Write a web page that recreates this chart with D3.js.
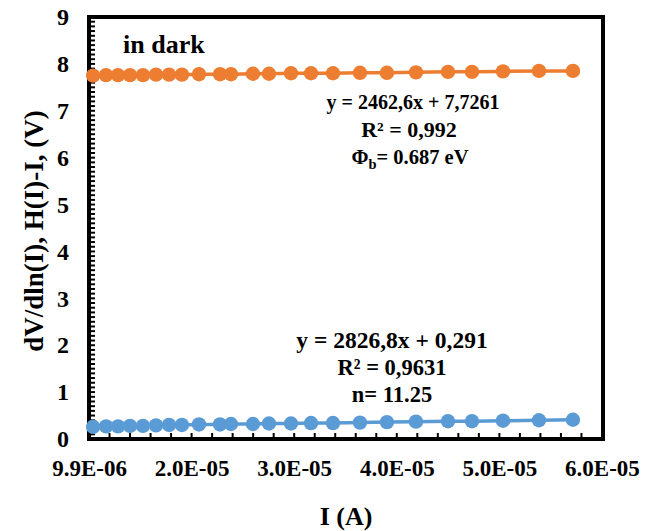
<!DOCTYPE html>
<html>
<head>
<meta charset="utf-8">
<script src="https://cdn.jsdelivr.net/npm/d3@7"></script>
<style>
  html, body { margin: 0; padding: 0; background: #fff; }
  svg text { font-family: "Liberation Serif", "Times New Roman", serif; font-weight: bold; fill: #000; }
</style>
</head>
<body>
<svg id="chart" width="662" height="531"></svg>
<script>
// Current (A) at each measurement point
const current = [
  1.03e-5, 1.156e-5, 1.273e-5, 1.39e-5, 1.516e-5, 1.643e-5, 1.77e-5, 1.896e-5,
  2.062e-5, 2.267e-5, 2.374e-5, 2.588e-5, 2.744e-5, 2.959e-5, 3.154e-5, 3.368e-5,
  3.631e-5, 3.894e-5, 4.177e-5, 4.489e-5, 4.723e-5, 5.025e-5, 5.376e-5, 5.707e-5
];
// H(I) - I (V)
const hFunc = [
  7.75, 7.76, 7.76, 7.76, 7.76, 7.77, 7.77, 7.77,
  7.78, 7.78, 7.78, 7.79, 7.79, 7.80, 7.80, 7.80,
  7.81, 7.81, 7.82, 7.83, 7.83, 7.84, 7.85, 7.85
];
// dV/dln(I) - I (V)
const dvdlnI = [
  0.26, 0.27, 0.27, 0.28, 0.28, 0.29, 0.30, 0.30,
  0.31, 0.31, 0.32, 0.32, 0.33, 0.33, 0.34, 0.34,
  0.35, 0.36, 0.37, 0.38, 0.38, 0.39, 0.40, 0.41
];
const yTicks = [0, 1, 2, 3, 4, 5, 6, 7, 8, 9];
const xTicks = [9.9e-6, 1.99e-5, 2.99e-5, 3.99e-5, 4.99e-5, 5.99e-5];
const hLabel = ["y = 2462,6x + 7,7261", "R² = 0,992"];
const dvLabel = ["y = 2826,8x + 0,291", "R² = 0,9631", "n= 11.25"];

const svg = d3.select("#chart");
const L = 89, R = 603, T = 17, B = 439;

const x = d3.scaleLinear().domain([9.9e-6, 6.0e-5]).range([L, R]);
const y = d3.scaleLinear().domain([0, 9]).range([B, T]);

const fmtE = v => {
  const [m, e] = v.toExponential(1).split("e");
  const sign = e[0] === "-" ? "-" : "+";
  const digits = e.replace(/[+-]/, "").padStart(2, "0");
  return m + "E" + sign + digits;
};

// minor tick positions
const yMinor = d3.range(0, 9.0001, 0.1);
const xMinor = d3.range(0, 26).map(i => 9.9e-6 + i * 2e-6).filter(v => v <= 6.0e-5);

const ticks = svg.append("g");
ticks.selectAll(".ym").data(yMinor).join("line")
  .attr("x1", L).attr("x2", L + 6)
  .attr("y1", d => y(d)).attr("y2", d => y(d))
  .attr("stroke", "#000").attr("stroke-width", 2);
ticks.selectAll(".xm").data(xMinor).join("line")
  .attr("x1", d => x(d)).attr("x2", d => x(d))
  .attr("y1", B).attr("y2", B - 6)
  .attr("stroke", "#000").attr("stroke-width", 2);

// axis labels through d3 axes (lines hidden, frame drawn separately)
const yAxis = svg.append("g").attr("transform", `translate(${L},0)`)
  .call(d3.axisLeft(y).tickValues(yTicks).tickSize(0).tickPadding(20).tickFormat(d3.format("d")));
const xAxis = svg.append("g").attr("transform", `translate(0,${B})`)
  .call(d3.axisBottom(x).tickValues(xTicks).tickSize(0).tickPadding(21).tickFormat(fmtE));
[yAxis, xAxis].forEach(a => {
  a.select(".domain").remove();
  a.selectAll("text").attr("font-family", "Liberation Serif, serif").attr("font-weight", "bold");
});
yAxis.selectAll("text").attr("font-size", 24);
xAxis.selectAll("text").attr("font-size", 23);

// frame
svg.append("rect").attr("x", L).attr("y", T).attr("width", R - L).attr("height", B - T)
  .attr("fill", "none").attr("stroke", "#000").attr("stroke-width", 4);

// series
const series = [
  { vals: hFunc, color: "#ED7D31" },
  { vals: dvdlnI, color: "#5B9BD5" }
];
const line = d3.line().x(d => x(d[0])).y(d => y(d[1]));
series.forEach(s => {
  const pts = current.map((c, i) => [c, s.vals[i]]);
  const g = svg.append("g");
  g.append("path").datum(pts).attr("d", line)
    .attr("fill", "none").attr("stroke", s.color).attr("stroke-width", 3.5);
  g.selectAll("circle").data(pts).join("circle")
    .attr("cx", d => x(d[0])).attr("cy", d => y(d[1])).attr("r", 7.2)
    .attr("fill", s.color);
});

// annotations
svg.append("text").attr("x", 123).attr("y", 53).attr("font-size", 26).text("in dark");

svg.append("text").attr("x", 413).attr("y", 109).attr("text-anchor", "middle").attr("font-size", 20).text(hLabel[0]);
svg.append("text").attr("x", 409).attr("y", 137).attr("text-anchor", "middle").attr("font-size", 22).text(hLabel[1]);
const phi = svg.append("text").attr("x", 410).attr("y", 164).attr("text-anchor", "middle").attr("font-size", 20.5);
phi.append("tspan").text("Φ");
phi.append("tspan").attr("font-size", 14.5).attr("dy", 5).text("b");
phi.append("tspan").attr("dy", -5).text("= 0.687 eV");

const dvSizes = [23.5, 22.5, 22.5];
dvLabel.forEach((t, i) => {
  svg.append("text").attr("x", 392).attr("y", 348 + i * 27).attr("text-anchor", "middle")
    .attr("font-size", dvSizes[i]).text(t);
});

// axis titles
svg.append("text").attr("x", 346).attr("y", 525).attr("text-anchor", "middle").attr("font-size", 26).text("I (A)");
svg.append("text").attr("transform", `translate(43,${(T + B) / 2 + 3}) rotate(-90)`)
  .attr("text-anchor", "middle").attr("font-size", 27).text("dV/dln(I), H(I)-I, (V)");
</script>
</body>
</html>
